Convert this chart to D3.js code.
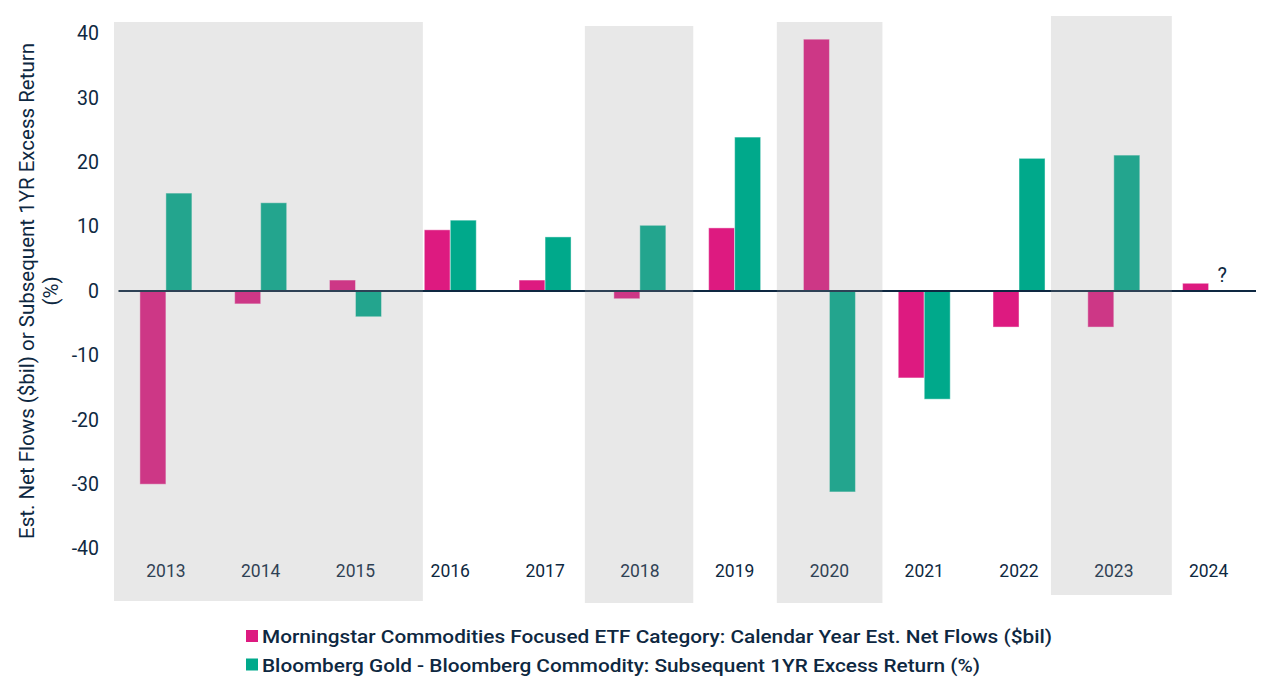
<!DOCTYPE html>
<html>
<head>
<meta charset="utf-8">
<script src="https://cdn.jsdelivr.net/npm/d3@7"></script>
<style>
  html, body { margin: 0; padding: 0; background: #fff; }
  svg { display: block; font-family: Roboto, "Noto Sans", sans-serif; }
</style>
</head>
<body>
<svg id="chart" width="1276" height="685"></svg>
<script>
// ---- data ----
const years = ["2013","2014","2015","2016","2017","2018","2019","2020","2021","2022","2023","2024"];
const netFlows = [-30.0, -2.0, 1.7, 9.5, 1.7, -1.2, 9.8, 39.1, -13.5, -5.6, -5.6, 1.2];
const excessReturn = [15.2, 13.7, -4.0, 11.0, 8.4, 10.2, 23.9, -31.2, -16.8, 20.6, 21.1, null];
const yTicks = [-40, -30, -20, -10, 0, 10, 20, 30, 40];
const seriesNames = [
  "Morningstar Commodities Focused ETF Category: Calendar Year Est. Net Flows ($bil)",
  "Bloomberg Gold - Bloomberg Commodity: Subsequent 1YR Excess Return (%)"
];
const shadedGroups = [["2013","2015"], ["2018","2018"], ["2020","2020"], ["2023","2023"]];

// ---- styling / layout ----
const colors = ["#DD1A80", "#00A98B"];
const ink = "#0E2841";
const svg = d3.select("#chart");

const x = d3.scaleBand().domain(years).range([118.5, 1256]).padding(0);
const y = d3.scaleLinear().domain([-40, 40]).range([548.6, 33.4]);
const halfGroup = 26;
const inner = d3.scaleBand().domain([0, 1]).range([-halfGroup, halfGroup]).padding(0);

const series = [netFlows, excessReturn];
const gBars = svg.append("g");
series.forEach((vals, si) => {
  gBars.selectAll(null)
    .data(years.map((yr, i) => ({ yr, v: vals[i] })).filter(d => d.v !== null))
    .enter().append("rect")
    .attr("x", d => x(d.yr) + x.bandwidth() / 2 + inner(si))
    .attr("width", inner.bandwidth())
    .attr("y", d => y(Math.max(0, d.v)))
    .attr("height", d => Math.abs(y(d.v) - y(0)))
    .attr("fill", colors[si])
    .attr("stroke", "rgba(255,255,255,0.45)")
    .attr("stroke-width", 1);
});

// zero line
svg.append("line")
  .attr("x1", x.range()[0]).attr("x2", x.range()[1])
  .attr("y1", y(0)).attr("y2", y(0))
  .attr("stroke", ink).attr("stroke-width", 2);

// y axis (labels only)
const yAxis = d3.axisLeft(y).tickValues(yTicks).tickSize(0).tickPadding(0).tickFormat(d => String(d));
const gy = svg.append("g").attr("transform", "translate(99,0)").call(yAxis);
gy.select(".domain").remove();
gy.selectAll("text").attr("fill", ink).style("font-size", "19.5px").style("font-family", "Roboto, sans-serif");

// x axis (labels only)
const xAxis = d3.axisBottom(x).tickSize(0).tickPadding(0);
const gx = svg.append("g").attr("transform", "translate(0,565)").call(xAxis);
gx.select(".domain").remove();
gx.selectAll("text").attr("fill", ink).style("font-size", "17.5px").style("font-family", "Roboto, sans-serif");

// question mark for 2024
svg.append("text")
  .attr("x", x("2024") + x.bandwidth() / 2 + inner(1) + 9)
  .attr("y", y(0) - 9)
  .attr("fill", ink).style("font-size", "20px")
  .text("?");

// y axis title
const yTitle = svg.append("text")
  .attr("transform", `translate(34,${y(0)}) rotate(-90)`)
  .attr("text-anchor", "middle").attr("fill", ink).style("font-size", "20.5px");
yTitle.append("tspan").attr("x", 0).attr("dy", 0).text("Est. Net Flows ($bil) or Subsequent 1YR Excess Return");
yTitle.append("tspan").attr("x", 0).attr("dy", 24).text("(%)");

// shaded overlays
const shadePads = [
  { l: 4.5, r: 20, t: 22, b: 601 },
  { l: 7.6, r: 6, t: 26, b: 603 },
  { l: 5.2, r: 5.6, t: 22, b: 603 },
  { l: 15.5, r: 10.6, t: 16, b: 595 }
];
svg.append("g").selectAll("rect").data(shadedGroups).enter().append("rect")
  .attr("x", (d, i) => x(d[0]) - shadePads[i].l)
  .attr("width", (d, i) => x(d[1]) + x.bandwidth() + shadePads[i].r - (x(d[0]) - shadePads[i].l))
  .attr("y", (d, i) => shadePads[i].t)
  .attr("height", (d, i) => shadePads[i].b - shadePads[i].t)
  .attr("fill", "#999999").attr("fill-opacity", 0.226);

// legend
const legend = svg.append("g");
const legendW = [790, 718];
seriesNames.forEach((name, i) => {
  const ly = 636 + i * 28.5;
  legend.append("rect").attr("x", 246).attr("y", ly - 6).attr("width", 12).attr("height", 12).attr("fill", colors[i]);
  legend.append("text").attr("x", 262).attr("y", ly + 7)
    .attr("fill", ink).style("font-size", "18px").style("font-weight", 500)
    .attr("textLength", legendW[i]).attr("lengthAdjust", "spacingAndGlyphs")
    .text(name);
});
</script>
</body>
</html>
